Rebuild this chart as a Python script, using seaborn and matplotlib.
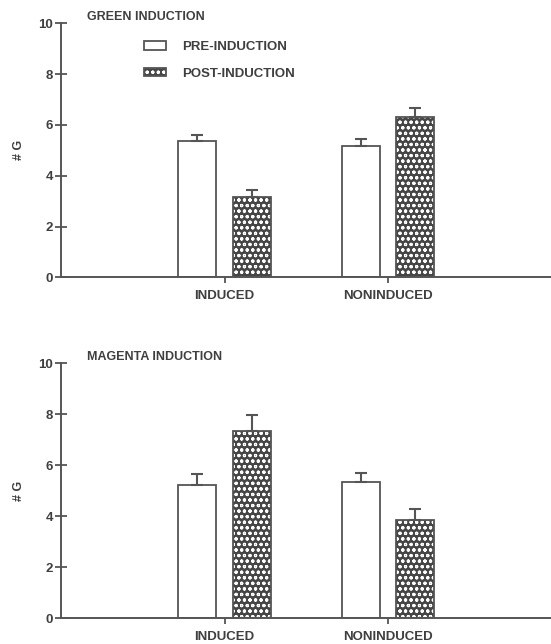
import numpy as np
import pandas as pd
import matplotlib
matplotlib.use("Agg")
import matplotlib.pyplot as plt
from matplotlib.patches import Patch
from matplotlib import colors as mcolors
import seaborn as sns

# ---- data ----
groups = ["INDUCED", "NONINDUCED"]
conditions = ["PRE-INDUCTION", "POST-INDUCTION"]
panel_titles = ["GREEN INDUCTION", "MAGENTA INDUCTION"]

green_pre = [5.38, 5.17]
green_post = [3.17, 6.30]
green_pre_err = [0.23, 0.26]
green_post_err = [0.27, 0.35]

magenta_pre = [5.23, 5.33]
magenta_post = [7.35, 3.85]
magenta_pre_err = [0.43, 0.38]
magenta_post_err = [0.61, 0.42]

y_ticks = [0, 2, 4, 6, 8, 10]
y_label = "# G"

# ---- style ----
sns.set_theme(style="ticks")
LINE = "#555555"
TEXT = "#3f3f3f"
DARK = "#464646"
plt.rcParams["font.family"] = ["Liberation Sans", "DejaVu Sans"]
plt.rcParams["hatch.linewidth"] = 0.8

fig = plt.figure(figsize=(5.51, 6.44), dpi=100)
ax_top = fig.add_axes([0.1116, 0.5694, 0.8884, 0.3944])
ax_bot = fig.add_axes([0.1116, 0.0399, 0.8884, 0.3960])

white_rgba = mcolors.to_rgba("white")


def set_white_hatch(p):
    p.set_hatch("ooo")
    if hasattr(p, "set_hatchcolor"):
        p.set_hatchcolor("white")
    else:
        p._hatch_color = white_rgba


def draw_panel(ax, pre, post, pre_err, post_err, title, legend):
    df = pd.DataFrame({
        "group": groups * 2,
        "condition": [conditions[0]] * 2 + [conditions[1]] * 2,
        "value": list(pre) + list(post),
    })
    sns.barplot(data=df, x="group", y="value", hue="condition",
                order=groups, hue_order=conditions,
                palette={conditions[0]: "white", conditions[1]: DARK},
                edgecolor=LINE, linewidth=1.3, width=0.667, gap=0.3,
                errorbar=None, legend=False, ax=ax, zorder=2)
    for cont, errs in zip(ax.containers, [pre_err, post_err]):
        xs = [b.get_x() + b.get_width() / 2 for b in cont]
        hs = [b.get_height() for b in cont]
        ax.errorbar(xs, hs, yerr=[np.zeros(len(errs)), errs], fmt="none",
                    ecolor=LINE, elinewidth=1.5, capsize=4.5, capthick=1.5,
                    zorder=3)
    for b in ax.containers[1]:
        set_white_hatch(b)

    ax.set_xlim(-1, 2)
    ax.set_ylim(0, 10)
    ax.set_yticks(y_ticks)
    ax.set_xlabel("")
    ax.set_ylabel(y_label, color=TEXT, fontsize=9, fontweight="bold",
                  labelpad=10)
    sns.despine(ax=ax)
    for s in ["left", "bottom"]:
        ax.spines[s].set_color(LINE)
        ax.spines[s].set_linewidth(1.4)
    ax.tick_params(axis="y", direction="inout", length=8, width=1.3,
                   color=LINE, labelcolor=TEXT, labelsize=9.5, pad=2)
    ax.tick_params(axis="x", direction="out", length=4, width=1.3,
                   color=LINE, labelcolor=TEXT, labelsize=9.5, pad=5)
    for lab in ax.get_xticklabels() + ax.get_yticklabels():
        lab.set_fontweight("bold")
    ax.text(0.052, 1.025, title, transform=ax.transAxes, ha="left",
            va="center", fontsize=9, fontweight="bold", color=TEXT)

    if legend:
        h_pre = Patch(facecolor="white", edgecolor=LINE, linewidth=1.3,
                      label=conditions[0])
        h_post = Patch(facecolor=DARK, edgecolor=LINE, linewidth=1.3,
                       label=conditions[1])
        set_white_hatch(h_post)
        leg = ax.legend(handles=[h_pre, h_post], loc="upper left",
                        bbox_to_anchor=(0.1685, 0.93), frameon=False,
                        fontsize=9.5, borderpad=0, borderaxespad=0,
                        handlelength=1.7, handleheight=0.65,
                        handletextpad=1.2, labelspacing=1.1)
        for t in leg.get_texts():
            t.set_fontweight("bold")
            t.set_color(TEXT)


draw_panel(ax_top, green_pre, green_post, green_pre_err, green_post_err,
           panel_titles[0], True)
draw_panel(ax_bot, magenta_pre, magenta_post, magenta_pre_err,
           magenta_post_err, panel_titles[1], False)

fig.savefig("out.png", dpi=100, facecolor="white")
